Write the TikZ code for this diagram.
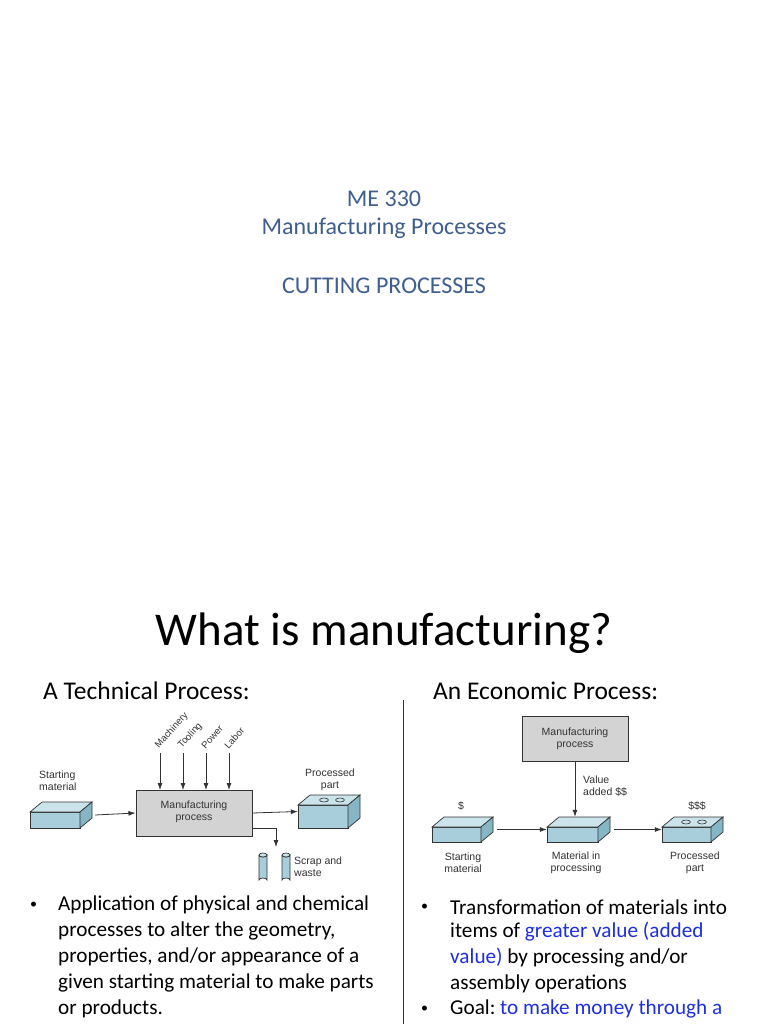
\documentclass[tikz,border=0pt]{standalone}
\usepackage{fontspec}
\setmainfont{Carlito}
\newfontfamily\dfont{Liberation Sans}
\usetikzlibrary{arrows.meta}
\definecolor{slate}{HTML}{3F5F8F}
\definecolor{linkblue}{HTML}{1F2FE0}
\definecolor{bfront}{HTML}{A8CEDB}
\definecolor{btop}{HTML}{CBE4EC}
\definecolor{bside}{HTML}{86B6C6}
\definecolor{boxgray}{HTML}{D3D3D3}
\tikzset{
  slidetxt/.style={font=\fontsize{21.2}{25}\selectfont, anchor=west, inner sep=0pt},
  bul/.style={font=\fontsize{14}{16}\selectfont, anchor=west, inner sep=0pt},
  dlabel/.style={font=\dfont\fontsize{10.5}{12}\selectfont, text=black!80, align=center, inner sep=0pt},
  procbox/.style={draw=black!80, line width=1pt, fill=boxgray, inner sep=0pt},
  flow/.style={-{Latex[length=7pt,width=5pt]}, black!80, line width=0.8pt},
  ghost/.style={inner sep=0pt, draw=none}
}
\newcommand\mkcube[5]{% name x0 y0 x1 y1
  \filldraw[draw=black!80, line width=0.7pt, fill=bfront] (#2,#3+10) rectangle (#4-12,#5);
  \filldraw[draw=black!80, line width=0.7pt, fill=btop] (#2,#3+10) -- (#2+12,#3) -- (#4,#3) -- (#4-12,#3+10) -- cycle;
  \filldraw[draw=black!80, line width=0.7pt, fill=bside] (#4-12,#3+10) -- (#4,#3) -- (#4,#5-10) -- (#4-12,#5) -- cycle;
  \node[ghost, minimum width=#4-#2, minimum height=#5-#3] (#1) at ({(#2+#4)/2},{(#3+#5)/2}) {};
}
\newcommand\holes[3]{% x y of top center, spacing
  \filldraw[draw=black!80, line width=0.6pt, fill=btop] (#1-#3,#2) ellipse (4.5 and 2);
  \filldraw[draw=black!80, line width=0.6pt, fill=btop] (#1+#3,#2) ellipse (4.5 and 2);
}
\newcommand\cyl[4]{% x0 x1 y0 y1
  \filldraw[draw=black!80, line width=0.7pt, fill=bfront] (#1,#3) -- (#1,#4) arc[start angle=180,end angle=360,x radius={(#2-#1)/2},y radius=2] -- (#2,#3) arc[start angle=0,end angle=180,x radius={(#2-#1)/2},y radius=2];
  \filldraw[draw=black!80, line width=0.7pt, fill=btop] ({(#1+#2)/2},#3) ellipse ({(#2-#1)/2} and 2);
}
\begin{document}
\begin{tikzpicture}[x=1pt,y=-1pt]
\useasboundingbox[fill=white] (0,0) rectangle (768,1024);
% title slide
\node[font=\fontsize{24}{28}\selectfont, text=slate] (t1) at (384,199) {ME 330};
\node[font=\fontsize{24}{28}\selectfont, text=slate] (t2) at (384,228) {Manufacturing Processes};
\node[font=\fontsize{24}{28}\selectfont, text=slate] (t3) at (384,286) {CUTTING PROCESSES};
\node[font=\fontsize{47}{52}\selectfont] (title) at (384,633) {What is manufacturing?};
\node[slidetxt, font=\fontsize{25.5}{30}\selectfont] (h1) at (43,691) {A Technical Process:};
\node[slidetxt, font=\fontsize{25.5}{30}\selectfont] (h2) at (433,691) {An Economic Process:};
\coordinate (vtop) at (403,700);
\coordinate (vbot) at (403,1024);
\draw[linkblue!80!black, line width=1pt] (vtop) -- (vbot);

% left diagram
\node[procbox, minimum width=116, minimum height=46] (mp) at (194,813) {};
\node[dlabel] (mpt) at (194,812) {Manufacturing\\process};
\mkcube{sm}{30}{802}{92}{828}
\node[dlabel, align=left, anchor=north west] (smt) at (39,771) {Starting\\material};
\mkcube{pp}{298}{795}{360}{828}
\holes{332}{800}{8}
\node[dlabel] (ppt) at (330,780) {Processed\\part};
\draw[flow] (sm.east) ++(3,0) coordinate (a1) -- (mp.west);
\draw[flow] (mp.east) -- (pp.west);
\coordinate (sc1) at (252,828);
\coordinate (sc2) at (276,828);
\coordinate (sc3) at (276,847);
\draw[flow] (sc1) -- (sc2) -- (sc3);
\cyl{259}{267}{855}{880}
\cyl{282}{290}{855}{880}
\node[dlabel, align=left, anchor=west] (scr) at (294,867) {Scrap and\\waste};
\foreach \xx/\lab in {160/Machinery,183/Tooling,206/Power,229/Labor}{
  \coordinate (in\lab) at (\xx,753);
  \draw[flow] (in\lab) -- (\xx,790);
  \node[dlabel, font=\dfont\fontsize{9.5}{11}\selectfont, rotate=48, anchor=west] at (\xx-3,747) {\lab};
}

% right diagram
\node[procbox, minimum width=106, minimum height=45] (mp2) at (575,739) {};
\node[dlabel] (mp2t) at (575,739) {Manufacturing\\process};
\mkcube{e1}{432}{817}{493}{842}
\mkcube{e2}{547}{817}{610}{842}
\mkcube{e3}{662}{817}{723}{842}
\holes{694}{822}{8}
\draw[flow] (mp2.south) -- (e2.north -| mp2.south);
\node[dlabel, align=left, anchor=west] (va) at (583,786) {Value\\added \$\$};
\node[dlabel] (d1) at (461,806) {\$};
\node[dlabel] (d3) at (697,806) {\$\$\$};
\draw[flow] (e1.east) ++(4,0) coordinate (a2) -- (e2.west);
\draw[flow] (e2.east) ++(4,0) coordinate (a3) -- (e3.west);
\node[dlabel] (l1) at (463,863) {Starting\\material};
\node[dlabel] (l2) at (576,863) {Material in\\processing};
\node[dlabel] (l3) at (695,863) {Processed\\part};

% bullets
\node[bul] (b1) at (30,905) {•};
\node[slidetxt] at (58,905) {Application of physical and chemical};
\node[slidetxt] at (58,931) {processes to alter the geometry,};
\node[slidetxt] at (58,957) {properties, and/or appearance of a};
\node[slidetxt] at (58,983) {given starting material to make parts};
\node[slidetxt] at (58,1009) {or products.};
\node[bul] (b2) at (421,907) {•};
\node[slidetxt] at (450,907) {Transformation of materials into};
\node[slidetxt] at (450,932) {items of \textcolor{linkblue}{greater value (added}};
\node[slidetxt] at (450,958) {\textcolor{linkblue}{value)} by processing and/or};
\node[slidetxt] at (450,984) {assembly operations};
\node[bul] (b3) at (421,1009) {•};
\node[slidetxt] at (450,1009) {Goal:~\textcolor{linkblue}{to make money through a}};
\end{tikzpicture}
\end{document}
